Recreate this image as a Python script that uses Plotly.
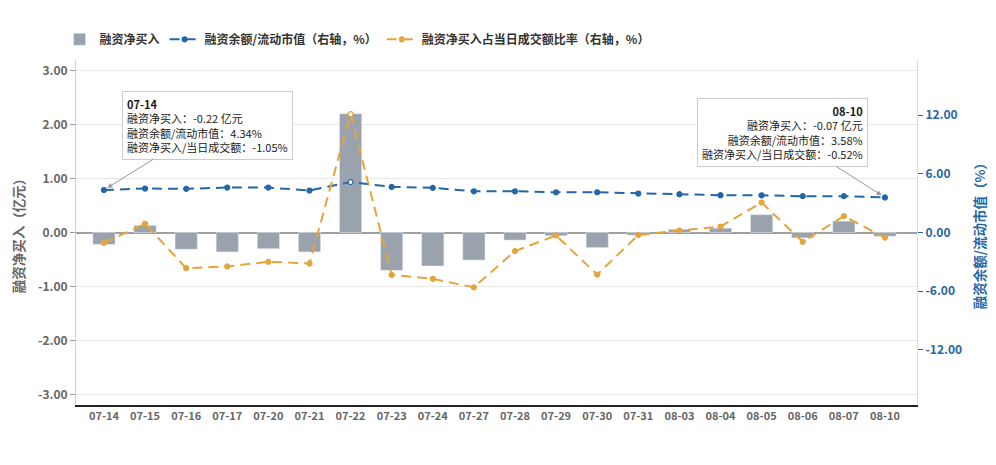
import plotly.graph_objects as go

dates = ['07-14', '07-15', '07-16', '07-17', '07-20', '07-21', '07-22', '07-23', '07-24', '07-27',
         '07-28', '07-29', '07-30', '07-31', '08-03', '08-04', '08-05', '08-06', '08-07', '08-10']
net_buy = [-0.22, 0.13, -0.31, -0.36, -0.30, -0.36, 2.20, -0.70, -0.62, -0.51,
           -0.14, -0.06, -0.28, -0.05, 0.06, 0.08, 0.33, -0.10, 0.21, -0.07]
margin_ratio = [4.34, 4.49, 4.46, 4.59, 4.59, 4.29, 5.15, 4.66, 4.56, 4.21,
                4.21, 4.11, 4.11, 3.98, 3.91, 3.81, 3.80, 3.71, 3.71, 3.58]
turnover_ratio = [-1.05, 0.89, -3.64, -3.47, -2.99, -3.16, 12.10, -4.33, -4.73, -5.60,
                  -1.90, -0.30, -4.30, -0.25, 0.20, 0.61, 3.06, -0.95, 1.67, -0.52]
left_ticks = [-3, -2, -1, 0, 1, 2, 3]
right_ticks = [-12, -6, 0, 6, 12]

font = 'Noto Sans CJK SC, Noto Sans, sans-serif'
grey = '#9aa3ad'
blue = '#2466a6'
orange = '#e3a53c'

# highlighted point (07-22) drawn with a hollow marker
hl = dates.index('07-22')
blue_fill = ['white' if i == hl else blue for i in range(len(dates))]
orange_fill = ['white' if i == hl else orange for i in range(len(dates))]

fig = go.Figure()
fig.add_trace(go.Bar(x=dates, y=net_buy, name='融资净买入', marker_color=grey, width=0.54))
fig.add_trace(go.Scatter(x=dates, y=margin_ratio, name='融资余额/流动市值（右轴，%）', yaxis='y2',
                         mode='lines+markers', line=dict(color=blue, width=2, dash='10px,6px'),
                         marker=dict(size=5, color=blue_fill, line=dict(color=blue, width=1.2))))
fig.add_trace(go.Scatter(x=dates, y=turnover_ratio, name='融资净买入占当日成交额比率（右轴，%）', yaxis='y2',
                         mode='lines+markers', line=dict(color=orange, width=2, dash='10px,6px'),
                         marker=dict(size=5, color=orange_fill, line=dict(color=orange, width=1.2))))

tip = '<b>%s</b><br>融资净买入：%.2f 亿元<br>融资余额/流动市值：%.2f%%<br>融资净买入/当日成交额：%.2f%%'
first, last = 0, len(dates) - 1
fig.add_annotation(x=dates[first], y=margin_ratio[first], yref='y2', ax=104, ay=-65,
                   text=tip % (dates[first], net_buy[first], margin_ratio[first], turnover_ratio[first]),
                   align='left', showarrow=True, arrowhead=2, arrowsize=1, arrowwidth=1, arrowcolor='#999999',
                   standoff=4, bgcolor='white', bordercolor='#cccccc', borderwidth=1, borderpad=4,
                   font=dict(family=font, size=11, color='#1a1a1a'))
fig.add_annotation(x=dates[last], y=margin_ratio[last], yref='y2', ax=-102, ay=-65,
                   text=tip % (dates[last], net_buy[last], margin_ratio[last], turnover_ratio[last]),
                   align='right', showarrow=True, arrowhead=2, arrowsize=1, arrowwidth=1, arrowcolor='#999999',
                   standoff=4, bgcolor='white', bordercolor='#cccccc', borderwidth=1, borderpad=4,
                   font=dict(family=font, size=11, color='#1a1a1a'))

# page body adds an 8px offset, margins compensate for it
fig.update_layout(
    width=996, height=465,
    margin=dict(l=68, r=87, t=52, b=68, autoexpand=False),
    plot_bgcolor='white', paper_bgcolor='white',
    font=dict(family=font, size=12, color='#555555'),
    hovermode=False,
    legend=dict(orientation='h', x=-0.0195, y=1.06, xanchor='left', yanchor='middle',
                font=dict(family=font, size=12, color='#333333', weight='bold'),
                itemwidth=30, traceorder='normal'),
    xaxis=dict(type='category', range=[-0.68, 19.78], showgrid=False, showline=True,
               linecolor='#222222', linewidth=2, ticks='',
               tickfont=dict(size=11, color='#666666', weight='bold')),
    yaxis=dict(range=[-3.195, 3.195], tickvals=left_ticks, ticktext=['%.2f' % v for v in left_ticks],
               showgrid=True, gridcolor='#e8e8e8', zeroline=True, zerolinecolor='#a0a0a0', zerolinewidth=2,
               showline=True, linecolor='#d0d0d0', linewidth=1,
               ticks='outside', ticklen=5, tickcolor='#999999',
               tickfont=dict(size=12, color='#666666', weight='bold'),
               title=dict(text='融资净买入（亿元）', font=dict(size=13.5, color='#666666', weight='bold'),
                          standoff=12)),
    yaxis2=dict(range=[-17.62, 17.62], tickvals=right_ticks, ticktext=['%.2f' % v for v in right_ticks],
                overlaying='y', side='right', showgrid=False, zeroline=False,
                showline=True, linecolor='#d5dde6', linewidth=1,
                ticks='outside', ticklen=5, tickcolor=blue,
                tickfont=dict(size=12, color=blue, weight='bold'),
                title=dict(text='融资余额/流动市值（%）', font=dict(size=13.5, color=blue, weight='bold'),
                           standoff=14)),
)

fig.write_html('out.html')
